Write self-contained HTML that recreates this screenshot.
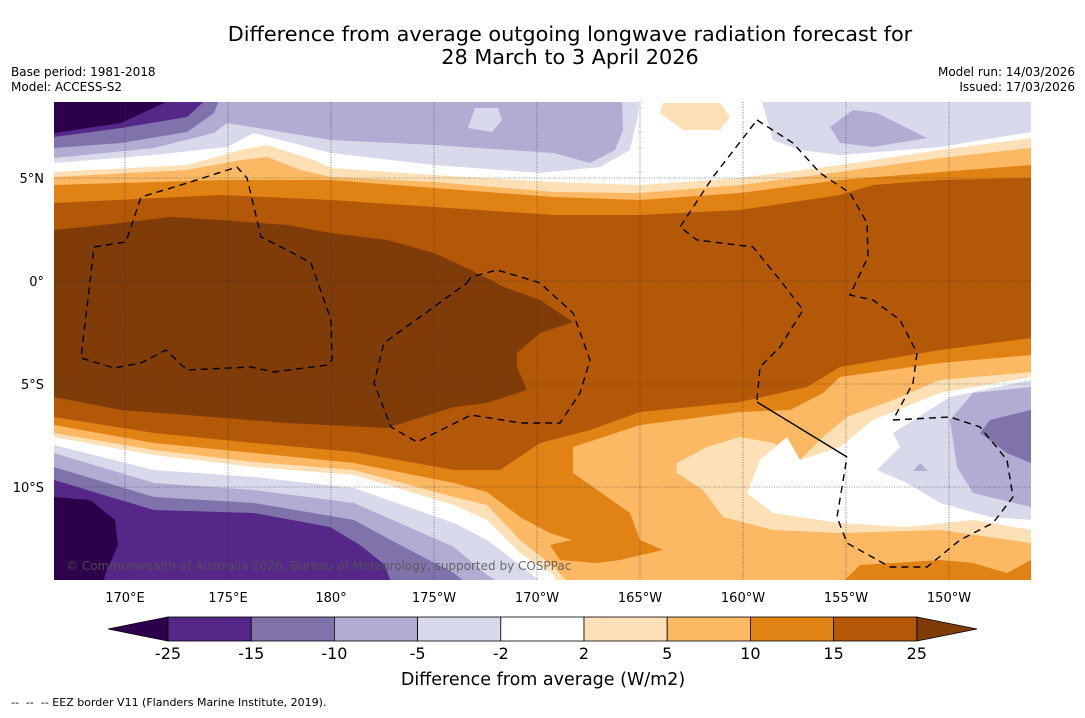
<!DOCTYPE html>
<html><head><meta charset="utf-8">
<style>
html,body{margin:0;padding:0;background:#fff;}
body{width:1085px;height:713px;overflow:hidden;font-family:"Liberation Sans","DejaVu Sans",sans-serif;}
svg text{font-family:"DejaVu Sans","Liberation Sans",sans-serif;}
</style></head>
<body>
<svg id="chart" width="1085" height="713" viewBox="0 0 1085 713" xmlns="http://www.w3.org/2000/svg">
  <text x="570" y="41" font-size="20.8" text-anchor="middle" fill="#000">Difference from average outgoing longwave radiation forecast for</text>
  <text x="570" y="64" font-size="20.8" text-anchor="middle" fill="#000">28 March to 3 April 2026</text>
  <text x="11" y="76" font-size="12">Base period: 1981-2018</text>
  <text x="11" y="91" font-size="12">Model: ACCESS-S2</text>
  <text x="1075" y="76" font-size="12" text-anchor="end">Model run: 14/03/2026</text>
  <text x="1075" y="91" font-size="12" text-anchor="end">Issued: 17/03/2026</text>
  <defs><clipPath id="mapclip"><rect x="54" y="102" width="977" height="478"/></clipPath></defs>
  <g id="map" clip-path="url(#mapclip)"></g>
  <g id="axes"></g>
  <g id="cbar"></g>
  <text x="543" y="685" font-size="17.5" text-anchor="middle">Difference from average (W/m2)</text>
  <text x="11" y="706" font-size="11" xml:space="preserve">--  --  -- EEZ border V11 (Flanders Marine Institute, 2019).</text>
</svg>
<script>
// colour scale
const levels = [-25,-15,-10,-5,-2,2,5,10,15,25];
const colors = ["#542788","#8073ac","#b2abd2","#d8daeb","#ffffff","#fee0b6","#fdb863","#e08214","#b35806"];
const underColor = "#2d004b", overColor = "#7f3b08";
const lonTicks = [170,175,180,-175,-170,-165,-160,-155,-150];
const lonLabels = ["170°E","175°E","180°","175°W","170°W","165°W","160°W","155°W","150°W"];
const latTicks = [5,0,-5,-10];
const latLabels = ["5°N","0°","5°S","10°S"];

const NS="http://www.w3.org/2000/svg";
function mk(tag, attrs, parent){const e=document.createElementNS(NS,tag);for(const k in attrs)e.setAttribute(k,attrs[k]);parent.appendChild(e);return e;}
function xLon(l){const e=l<0?l+360:l;return 125+(e-170)*20.6;}
function yLat(l){return 281-l*20.6;}
function pts(a){return a.map(p=>p[0]+","+p[1]).join(" ");}
const map=document.getElementById('map');

const topCurves = [
 ["#e08214",[[54,203],[221,195],[331,200],[434,207],[554,215],[640,215],[740,210],[840,195],[873,185],[940,180],[1031,178]]],
 ["#fdb863",[[54,185],[221,180],[331,180],[434,188],[554,197],[640,200],[740,193],[840,180],[940,172],[1031,165]]],
 ["#fee0b6",[[54,177],[187,170],[241,160],[267,157],[301,170],[331,177],[434,182],[554,192],[640,193],[740,185],[840,172],[940,158],[1031,148]]],
 ["#ffffff",[[54,172],[187,165],[241,150],[267,145],[314,160],[331,168],[434,175],[554,182],[640,185],[740,178],[840,165],[940,150],[1031,138]]],
 ["#d8daeb",[[54,163],[154,155],[227,147],[254,133],[331,153],[434,165],[540,173],[600,167],[630,150],[637,120],[640,95],[760,95],[773,140],[800,150],[840,155],[940,147],[1031,132]]],
 ["#b2abd2",[[54,158],[154,148],[214,133],[227,123],[331,140],[434,145],[554,153],[590,163],[615,150],[623,130],[622,95],[1031,95]]],
 ["#8073ac",[[54,148],[121,143],[187,132],[214,113],[221,95],[1031,95]]],
 ["#542788",[[54,137],[121,128],[187,117],[211,95],[1031,95]]],
 ["#2d004b",[[54,133],[121,123],[164,103],[170,95],[1031,95]]]
];
const botCurves = [
 ["#e08214",[[54,417],[154,433],[254,443],[354,452],[454,470],[500,470],[540,443],[590,430],[640,412],[740,402],[807,387],[840,367],[940,350],[1031,338]]],
 ["#fdb863",[[54,425],[154,443],[254,453],[354,463],[454,483],[487,492],[520,517],[550,533],[572,540],[573,447],[640,425],[740,412],[790,410],[823,393],[840,377],[940,363],[1031,355]]],
 ["#fee0b6",[[54,433],[154,450],[254,462],[354,470],[454,497],[487,505],[520,540],[554,567],[575,590],[670,590],[677,463],[707,447],[740,437],[773,443],[800,460],[823,437],[847,417],[893,400],[940,380],[1031,372]]],
 ["#ffffff",[[54,437],[154,455],[254,467],[354,475],[454,505],[487,520],[520,553],[554,575],[560,592],[745,592],[747,493],[760,460],[787,437],[800,460],[840,447],[873,420],[940,393],[1031,377]]],
 ["#d8daeb",[[54,445],[154,470],[254,477],[354,488],[454,523],[487,540],[520,565],[554,592],[1031,592]]],
 ["#b2abd2",[[54,453],[154,483],[254,490],[354,503],[454,547],[487,575],[520,595],[1031,595]]],
 ["#8073ac",[[54,467],[154,497],[254,503],[354,520],[400,545],[454,573],[480,595],[1031,595]]],
 ["#542788",[[54,480],[154,510],[254,513],[330,527],[360,545],[385,565],[395,595],[1031,595]]],
 ["#2d004b",[[54,497],[90,500],[115,520],[118,545],[105,575],[100,595],[1031,595]]]
];
const core = [[54,230],[121,223],[171,217],[221,220],[287,225],[331,233],[387,240],[434,253],[471,270],[504,287],[540,300],[573,322],[540,333],[517,353],[517,367],[527,390],[487,403],[454,407],[387,428],[287,423],[187,415],[121,410],[54,397]];
const patches = [
 ["orange-patch-south","#e08214",[[573,447],[573,473],[630,513],[640,540],[663,550],[620,560],[597,563],[560,560],[550,545],[572,540]]],
 ["light-patch-south","#fee0b6",[[747,493],[773,513],[840,523],[907,527],[973,520],[1031,530],[1031,600],[740,600]]],
 ["tan-patch-south","#fdb863",[[677,473],[703,490],[723,517],[773,530],[840,533],[940,530],[1031,543],[1031,600],[670,600],[670,480]]],
 ["orange-patch-southeast","#e08214",[[845,580],[860,565],[893,563],[940,560],[973,563],[1007,573],[1031,560],[1031,600],[845,600]]],
 ["lavender-patch-east","#d8daeb",[[877,470],[900,447],[893,433],[950,397],[1031,380],[1031,520],[990,517],[940,503],[907,483]]],
 ["violet-patch-east","#b2abd2",[[950,420],[973,393],[1031,387],[1031,507],[973,493],[957,467]]],
 ["purple-patch-east","#8073ac",[[980,433],[990,420],[1031,410],[1031,463],[1007,453]]],
 ["violet-speck-east","#b2abd2",[[913,471],[920,463],[928,471]]],
 ["light-orange-blob-north","#fee0b6",[[660,113],[663,103],[720,103],[730,117],[720,130],[683,130]]],
 ["violet-blob-north","#b2abd2",[[830,127],[853,110],[877,113],[927,138],[873,147],[840,143]]],
 ["pale-blob-north","#d8daeb",[[468,128],[475,108],[498,108],[502,120],[492,132]]]
];

mk('rect',{x:54,y:102,width:977,height:478,fill:'#b35806'},map);
topCurves.forEach((c,i)=>{
  const p=mk('polygon',{points:pts([[54,95]].concat(c[1]).concat([[1031,95]])),fill:c[0]},map);
  
  
});
botCurves.forEach((c,i)=>{
  const p=mk('polygon',{points:pts(c[1].concat([[1031,600],[54,600]])),fill:c[0]},map);
  
  
});
patches.forEach(c=>{
  const p=mk('polygon',{points:pts(c[2]),fill:c[1]},map);
  
  
});
const cp=mk('polygon',{points:pts(core),fill:overColor},map);



lonTicks.forEach(l=>{const g=mk('line',{x1:xLon(l),x2:xLon(l),y1:102,y2:580,stroke:'#333','stroke-width':0.6,'stroke-dasharray':'1,1.5'},map);
  
  });
latTicks.forEach(l=>{const g=mk('line',{x1:54,x2:1031,y1:yLat(l),y2:yLat(l),stroke:'#333','stroke-width':0.6,'stroke-dasharray':'1,1.5'},map);
  
  });

const eez=[
 [[94,247],[126,242],[141,197],[181,185],[237,167],[247,178],[261,237],[287,250],[311,263],[331,320],[332,360],[327,365],[274,372],[251,367],[187,370],[166,350],[141,363],[114,368],[81,358],[94,247]],
 [[467,283],[471,277],[497,270],[531,280],[540,283],[573,313],[590,360],[580,393],[560,423],[521,423],[471,415],[417,442],[391,427],[374,383],[384,343],[467,283]],
 [[757,120],[793,143],[820,173],[850,193],[867,223],[868,257],[850,295],[873,300],[900,320],[917,353],[913,383],[893,420]],
 [[893,420],[950,417],[980,427],[1007,460],[1013,497],[993,523],[960,540],[927,567],[890,567],[847,543],[837,517],[847,457]],
 [[757,400],[760,367],[780,347],[803,310],[780,280],[753,247],[697,240],[680,227],[713,177],[757,120]]
];
eez.forEach(e=>{const p=mk('polyline',{points:pts(e),fill:'none',stroke:'#000','stroke-width':1.4,'stroke-dasharray':'7,5'},map);
  
  });
const sl=mk('line',{x1:757,y1:402,x2:847,y2:457,stroke:'#000','stroke-width':1.4},map);



const cr=mk('text',{x:66,y:570,'font-size':12,fill:'#555','fill-opacity':0.85},map);


cr.textContent='© Commonwealth of Australia 2026, Bureau of Meteorology, supported by COSPPac';

const axes=document.getElementById('axes');
lonTicks.forEach((l,i)=>{const t=mk('text',{x:xLon(l),y:602,'font-size':13,'text-anchor':'middle'},axes);
  
  
  t.textContent=lonLabels[i];});
latTicks.forEach((l,i)=>{const t=mk('text',{x:44,y:yLat(l)+5,'font-size':13,'text-anchor':'end'},axes);
  
  
  t.textContent=latLabels[i];});

const cb=document.getElementById('cbar');
const cbX0=168, cbW=83.2, cbY=617, cbH=24;
function cbx(i){return cbX0+i*cbW;}
const lt=mk('polygon',{points:pts([[cbx(0),cbY],[108,cbY+cbH/2],[cbx(0),cbY+cbH]]),fill:underColor,stroke:'#000','stroke-width':0.8},cb);


const rt=mk('polygon',{points:pts([[cbx(colors.length),cbY],[977,cbY+cbH/2],[cbx(colors.length),cbY+cbH]]),fill:overColor,stroke:'#000','stroke-width':0.8},cb);


colors.forEach((c,i)=>{const r=mk('rect',{x:cbx(i),y:cbY,width:cbW,height:cbH,fill:c,stroke:'#000','stroke-width':0.8},cb);
  
  });
levels.forEach((v,i)=>{const t=mk('text',{x:cbx(i),y:659,'font-size':16,'text-anchor':'middle'},cb);
  
  
  t.textContent=String(v);});
</script>
</body></html>
